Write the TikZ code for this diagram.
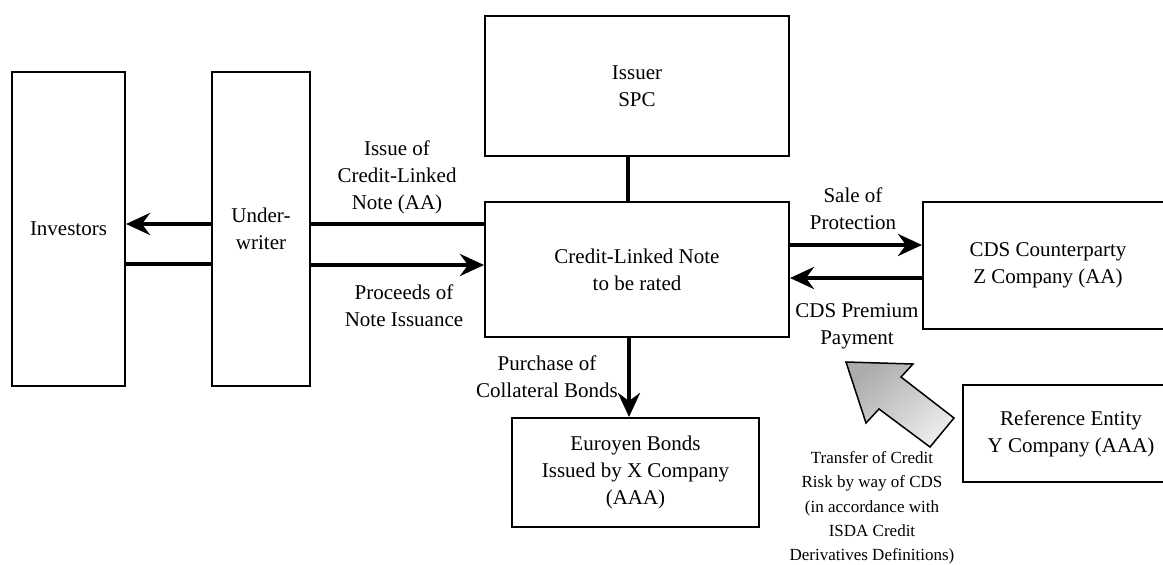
\documentclass[tikz,border=0pt]{standalone}
\usepackage{fontspec}
\setmainfont{Liberation Serif}
\usetikzlibrary{arrows.meta}

\begin{document}
\begin{tikzpicture}[x=1pt,y=-1pt,font=\fontsize{21}{27}\selectfont,
  box/.style={draw,line width=2pt,align=center,inner sep=0pt},
  lbl/.style={align=center,inner sep=0pt},
  conn/.style={line width=4.5pt},
  flow/.style={conn,-{Stealth[length=24pt,width=22pt,inset=8pt]}}]
\useasboundingbox (0,0) rectangle (1163,565);
\clip (0,0) rectangle (1163,565);
% parties
\node[box,minimum width=113,minimum height=314] (inv) at (68.5,229) {Investors};
\node[box,minimum width=98,minimum height=314] (uw) at (261,229) {Under-\\writer};
\node[box,minimum width=304,minimum height=140] (spc) at (637,86) {Issuer\\SPC};
\node[box,minimum width=304,minimum height=135] (cln) at (637,269.5) {Credit-Linked Note\\to be rated};
\node[box,minimum width=250,minimum height=127] (cds) at (1048,265.5) {CDS Counterparty\\Z Company (AA)};
\node[box,minimum width=216,minimum height=97] (ref) at (1071,433.5) {Reference Entity\\Y Company (AAA)};
\node[box,minimum width=247,minimum height=109] (eur) at (635.5,472.5) {Euroyen Bonds\\Issued by X Company\\(AAA)};
% flows
\draw[conn] (spc.south -| 628,0) -- (cln.north -| 628,0);
\draw[conn] (uw.east |- 0,224) -- (cln.west |- 0,224);
\draw[flow] (uw.west |- 0,224) -- (inv.east |- 0,224);
\draw[conn] (inv.east |- 0,264) -- (uw.west |- 0,264);
\draw[flow] (uw.east |- 0,265) -- (cln.west |- 0,265);
\draw[flow] (cln.east |- 0,245) -- (cds.west |- 0,245);
\draw[flow] (cds.west |- 0,278) -- (cln.east |- 0,278);
\draw[flow] (cln.south -| 629,0) -- (eur.north -| 629,0);
\node[lbl] (issue) at (397,177.5) {Issue of\\Credit-Linked\\Note (AA)};
\node[lbl] (proceeds) at (404,306) {Proceeds of\\Note Issuance};
\node[lbl] (sale) at (853,208.5) {Sale of\\Protection};
\node[lbl] (premium) at (857,326.5) {CDS Premium\\Payment};
\node[lbl] (purchase) at (547,376.5) {Purchase of\\Collateral Bonds};
% credit risk transfer
\draw[line width=1.5pt,top color=gray!65,bottom color=gray!15,shading angle=40]
  (846,362) -- (913,364) -- (901,377) -- (954,418) -- (930,447) -- (879,409) -- (866,423) -- cycle;
\node[lbl,font=\fontsize{17}{24.3}\selectfont] (transfer) at (872,508)
  {Transfer of Credit\\Risk by way of CDS\\(in accordance with\\ISDA Credit\\Derivatives Definitions)};
\end{tikzpicture}
\end{document}
